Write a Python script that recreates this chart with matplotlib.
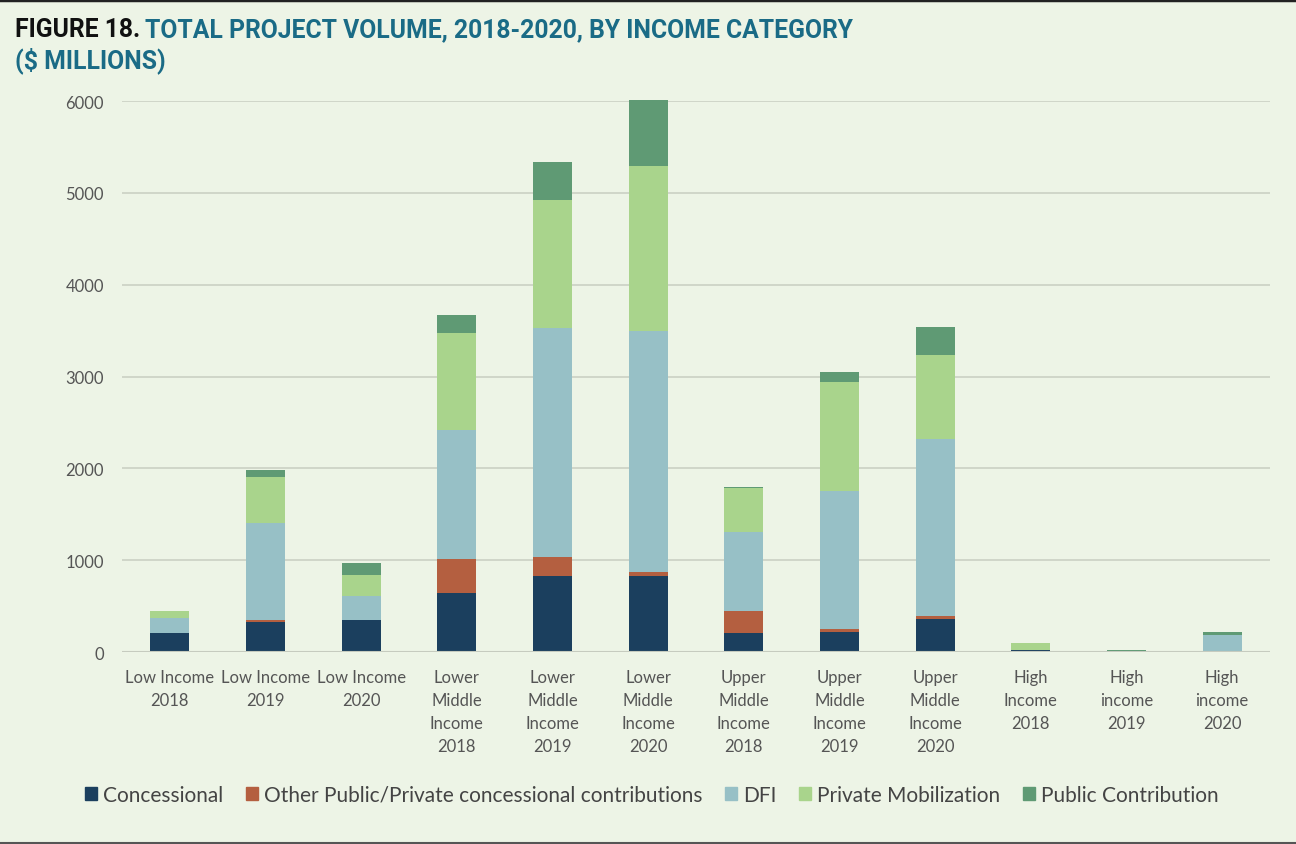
import matplotlib
matplotlib.use("Agg")
import matplotlib.pyplot as plt
import numpy as np
from matplotlib.patches import Rectangle
from matplotlib.lines import Line2D

categories = ["Low Income\n2018", "Low Income\n2019", "Low Income\n2020",
              "Lower\nMiddle\nIncome\n2018", "Lower\nMiddle\nIncome\n2019", "Lower\nMiddle\nIncome\n2020",
              "Upper\nMiddle\nIncome\n2018", "Upper\nMiddle\nIncome\n2019", "Upper\nMiddle\nIncome\n2020",
              "High\nIncome\n2018", "High\nincome\n2019", "High\nincome\n2020"]

concessional = [205, 330, 345, 640, 830, 830, 207, 214, 356, 25, 0, 5]
other_concessional = [0, 22, 0, 372, 208, 38, 243, 33, 36, 0, 0, 0]
dfi = [165, 1053, 268, 1400, 2490, 2630, 857, 1507, 1928, 0, 5, 185]
private_mobilization = [80, 500, 229, 1060, 1390, 1795, 480, 1187, 915, 75, 0, 0]
public_contribution = [0, 77, 128, 200, 420, 720, 12, 109, 305, 0, 15, 25]

series_names = ["Concessional", "Other Public/Private concessional contributions", "DFI",
                "Private Mobilization", "Public Contribution"]
series_values = [concessional, other_concessional, dfi, private_mobilization, public_contribution]
colors = ["#1b3f5e", "#b45f40", "#97c0c6", "#a9d48c", "#5f9a74"]

yticks = [0, 1000, 2000, 3000, 4000, 5000, 6000]

BG = "#edf4e6"
W, H = 1296, 845
fig = plt.figure(figsize=(W / 100, H / 100), dpi=100, facecolor=BG)
ax = fig.add_axes([122 / W, 1 - 653 / H, (1270 - 122) / W, (653 - 102) / H])
ax.set_facecolor(BG)

font = "Lato"
x = np.arange(len(categories))
bottom = np.zeros(len(categories))
handles = []
for name, vals, c in zip(series_names, series_values, colors):
    v = np.array(vals, dtype=float)
    ax.bar(x, v, width=0.41, bottom=bottom, color=c, edgecolor="none", zorder=3, clip_on=False, label=name)
    bottom += v
    handles.append(Rectangle((0, 0), 1, 1, color=c))

ax.set_xlim(-0.5, len(categories) - 0.5)
ax.set_ylim(0, 6000)
ax.set_yticks(yticks)
ax.set_yticklabels([str(t) for t in yticks], fontsize=12, color="#555555", family=font)
ax.set_xticks(x)
ax.set_xticklabels(categories, fontsize=12, color="#555555", family=font, linespacing=1.55)
ax.tick_params(axis="both", length=0)
ax.tick_params(axis="y", pad=13)
ax.tick_params(axis="x", pad=12)
ax.grid(axis="y", color="#cdd3c6", linewidth=1.3, zorder=0)
for s in ax.spines.values():
    s.set_visible(False)
ax.axhline(0, color="#c6cbbf", linewidth=1.5, zorder=4)

leg = fig.legend(handles, series_names, loc="center", bbox_to_anchor=(652 / W, 1 - 796 / H),
                 ncol=5, frameon=False, prop={"family": font, "size": 15}, labelcolor="#444444",
                 handlelength=0.55, handleheight=0.55, handletextpad=0.3, columnspacing=1.1)

# Title in two colours
tfam = ["Roboto", "DejaVu Sans"]
t1 = fig.text(15 / W, 1 - 30 / H, "FIGURE 18.", fontsize=17.8, fontweight="bold", color="#111111",
              family=tfam, va="center", ha="left")
fig.canvas.draw()
r = fig.canvas.get_renderer()
bb = t1.get_window_extent(r)
fig.text(bb.x1 / W + 5 / W, 1 - 30 / H, "TOTAL PROJECT VOLUME, 2018-2020, BY INCOME CATEGORY", fontsize=17.8,
         fontweight="bold", color="#1a6b86", family=tfam, va="center", ha="left")
fig.text(15 / W, 1 - 61 / H, "($ MILLIONS)", fontsize=17.8, fontweight="bold", color="#1a6b86",
         family=tfam, va="center", ha="left")

fig.add_artist(Line2D([0, 1], [1 - 1 / H, 1 - 1 / H], color="#222222", linewidth=2.5))
fig.add_artist(Line2D([0, 1], [1 / H, 1 / H], color="#555555", linewidth=1.5))

fig.savefig("out.png", dpi=100, facecolor=BG)
